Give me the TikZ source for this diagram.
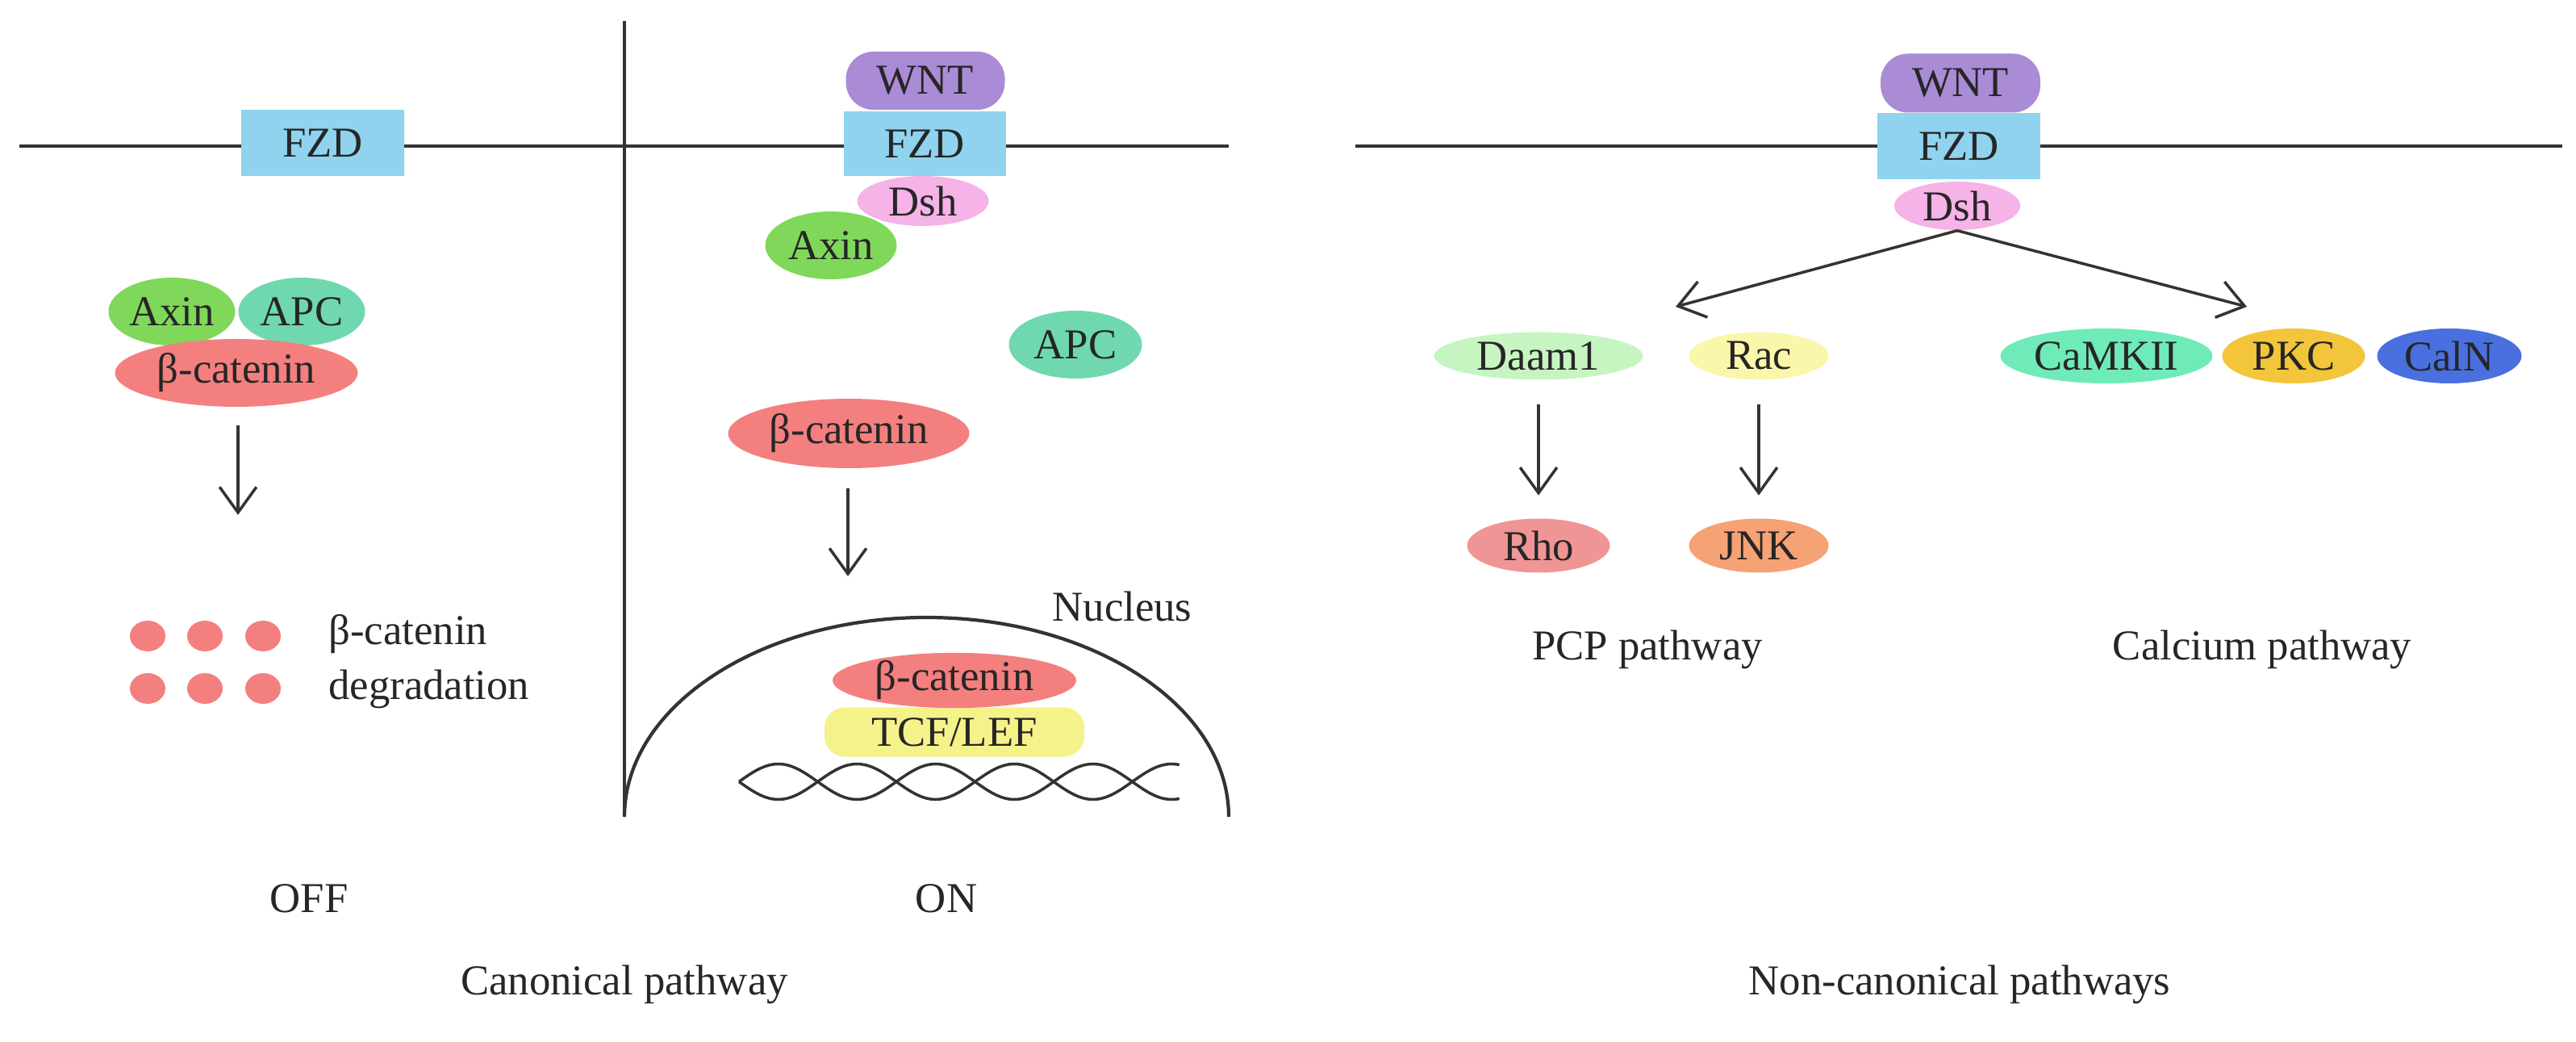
\documentclass[tikz,border=0pt]{standalone}
\usepackage{fontspec}
\setmainfont{Liberation Serif}
\usetikzlibrary{shapes.geometric,arrows.meta}
\definecolor{cfzd}{HTML}{8FD3EE}
\definecolor{cwnt}{HTML}{A98BD6}
\definecolor{cdsh}{HTML}{F5B3E8}
\definecolor{caxin}{HTML}{80D85A}
\definecolor{capc}{HTML}{6FD8AE}
\definecolor{cbcat}{HTML}{F47F7F}
\definecolor{ctcf}{HTML}{F5F28A}
\definecolor{cdaam}{HTML}{C6F5C2}
\definecolor{crac}{HTML}{FAF6AA}
\definecolor{ccam}{HTML}{6EEBB8}
\definecolor{cpkc}{HTML}{F2C53A}
\definecolor{ccaln}{HTML}{4A70E0}
\definecolor{crho}{HTML}{F09595}
\definecolor{cjnk}{HTML}{F5A274}
\tikzset{
  txt/.style={font=\fontsize{15}{18}\selectfont, text=black!85},
  lbl/.style={font=\fontsize{15}{18}\selectfont, text=black!85},
  ell/.style={ellipse, inner sep=0pt, txt},
  box/.style={rectangle, inner sep=0pt, txt},
  line/.style={line width=1.2pt, draw=black!80},
  arr/.style={line width=1pt, draw=black!80, -{Straight Barb[length=9pt,width=13pt]}},
}
\begin{document}
\begin{tikzpicture}
\useasboundingbox (0,0) rectangle (31.93,-12.91);
% membranes and divider
\draw[line] (0.24,-1.81) -- (15.23,-1.81);
\draw[line] (16.80,-1.81) -- (31.76,-1.81);
\draw[line] (7.74,-0.26) -- (7.74,-10.12);
% OFF
\node[box, fill=cfzd, minimum width=2.02cm, minimum height=0.82cm] (fzd1) at (4.00,-1.77) {FZD};
\node[ell, fill=caxin, minimum width=1.57cm, minimum height=0.84cm] (axin1) at (2.13,-3.86) {Axin};
\node[ell, fill=capc, minimum width=1.57cm, minimum height=0.84cm] (apc1) at (3.74,-3.86) {APC};
\node[ell, fill=cbcat, minimum width=3.01cm, minimum height=0.84cm] (bcat1) at (2.93,-4.62) {β-catenin};
\coordinate (a1s) at (2.95,-5.27);
\coordinate (a1e) at (2.95,-6.38);
\draw[arr] (a1s) -- (a1e);
\foreach \x/\y/\n in {1.83/7.88/d1,2.54/7.88/d2,3.26/7.88/d3,1.83/8.53/d4,2.54/8.53/d5,3.26/8.53/d6}
  \node[ellipse, fill=cbcat, minimum width=0.44cm, minimum height=0.38cm, inner sep=0pt] (\n) at (\x,-\y) {};
\node[lbl, anchor=west] (deg1) at (3.95,-7.86) {β-catenin};
\node[lbl, anchor=west] (deg2) at (3.95,-8.54) {degradation};
\node[lbl] (off) at (3.83,-11.13) {OFF};
% ON
\node[box, fill=cwnt, rounded corners=0.34cm, minimum width=1.97cm, minimum height=0.72cm] (wnt2) at (11.47,-1.00) {WNT};
\node[box, fill=cfzd, minimum width=2.01cm, minimum height=0.80cm] (fzd2) at (11.46,-1.78) {FZD};
\node[ell, fill=cdsh, minimum width=1.63cm, minimum height=0.62cm] (dsh2) at (11.44,-2.49) {Dsh};
\node[ell, fill=caxin, minimum width=1.63cm, minimum height=0.84cm] (axin2) at (10.30,-3.04) {Axin};
\node[ell, fill=capc, minimum width=1.65cm, minimum height=0.84cm] (apc2) at (13.33,-4.27) {APC};
\node[ell, fill=cbcat, minimum width=2.99cm, minimum height=0.86cm] (bcat2) at (10.52,-5.37) {β-catenin};
\coordinate (a2s) at (10.51,-6.05);
\coordinate (a2e) at (10.51,-7.14);
\draw[arr] (a2s) -- (a2e);
\node[lbl] (nuc) at (13.91,-7.51) {Nucleus};
\draw[line] (7.74,-10.12) arc[start angle=180, end angle=0, x radius=3.745, y radius=2.47];
\node[ell, fill=ctcf, rectangle, rounded corners=0.25cm, minimum width=3.22cm, minimum height=0.61cm] (tcf) at (11.83,-9.07) {TCF/LEF};
\node[ell, fill=cbcat, minimum width=3.02cm, minimum height=0.66cm] (bcat3) at (11.83,-8.43) {β-catenin};
\draw[line, line width=1pt] plot[domain=9.16:14.62, samples=120] (\x, {-9.685+0.22*sin(360*(\x-9.16)/1.95)});
\draw[line, line width=1pt] plot[domain=9.16:14.62, samples=120] (\x, {-9.685-0.22*sin(360*(\x-9.16)/1.95)});
\node[lbl] (on) at (11.73,-11.13) {ON};
\node[lbl] (canon) at (7.74,-12.20) {Canonical pathway};
% Non-canonical
\node[box, fill=cwnt, rounded corners=0.34cm, minimum width=1.98cm, minimum height=0.73cm] (wnt3) at (24.30,-1.03) {WNT};
\node[box, fill=cfzd, minimum width=2.02cm, minimum height=0.82cm] (fzd3) at (24.28,-1.81) {FZD};
\node[ell, fill=cdsh, minimum width=1.56cm, minimum height=0.60cm] (dsh3) at (24.26,-2.55) {Dsh};
\coordinate (bl) at (20.77,-3.80);
\coordinate (br) at (27.85,-3.80);
\draw[arr] (dsh3.south) -- (bl);
\draw[arr] (dsh3.south) -- (br);
\node[ell, fill=cdaam, minimum width=2.59cm, minimum height=0.59cm] (daam) at (19.07,-4.41) {Daam1};
\node[ell, fill=crac, minimum width=1.73cm, minimum height=0.59cm] (rac) at (21.80,-4.41) {Rac};
\node[ell, fill=ccam, minimum width=2.63cm, minimum height=0.68cm] (cam) at (26.11,-4.41) {CaMKII};
\node[ell, fill=cpkc, minimum width=1.77cm, minimum height=0.68cm] (pkc) at (28.43,-4.41) {PKC};
\node[ell, fill=ccaln, minimum width=1.79cm, minimum height=0.68cm] (caln) at (30.36,-4.41) {CalN};
\node[ell, fill=crho, minimum width=1.77cm, minimum height=0.67cm] (rho) at (19.07,-6.76) {Rho};
\node[ell, fill=cjnk, minimum width=1.73cm, minimum height=0.67cm] (jnk) at (21.80,-6.76) {JNK};
\draw[arr, shorten <=0.3cm, shorten >=0.28cm] (daam) -- (rho);
\draw[arr, shorten <=0.3cm, shorten >=0.28cm] (rac) -- (jnk);
\node[lbl] (pcp) at (20.42,-8.05) {PCP pathway};
\node[lbl] (calc) at (28.04,-8.05) {Calcium pathway};
\node[lbl] (noncanon) at (24.29,-12.20) {Non-canonical pathways};
\end{tikzpicture}
\end{document}
